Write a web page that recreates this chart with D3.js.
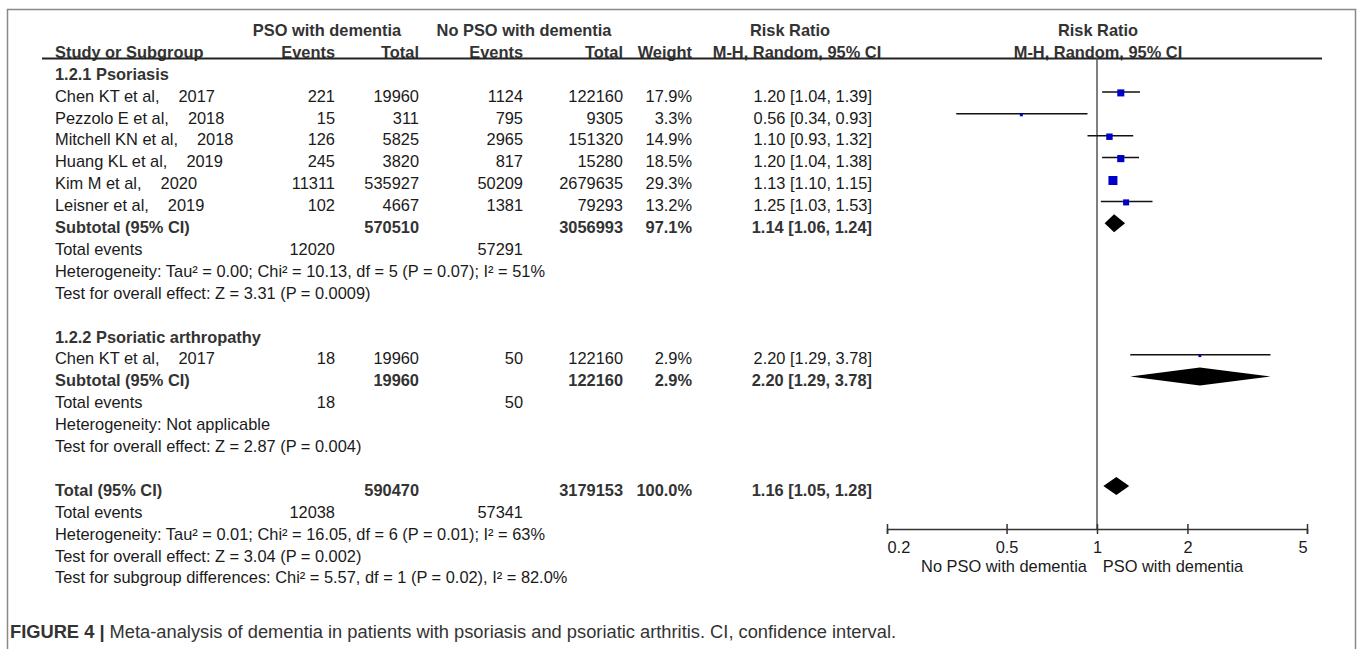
<!DOCTYPE html>
<html>
<head>
<meta charset="utf-8">
<script src="https://cdn.jsdelivr.net/npm/d3@7"></script>
<style>
  body { margin: 0; background: #fff; }
  svg text { font-family: "Liberation Sans", Arial, sans-serif; fill: #1a1a1a; }
  .b { font-weight: bold; fill: #333; }
</style>
</head>
<body>
<svg id="chart" width="1357" height="649"></svg>
<script>
// ---- data ----
const studyNames = ["Chen KT et al,", "Pezzolo E et al,", "Mitchell KN et al,", "Huang KL et al,", "Kim M et al,", "Leisner et al,", "Chen KT et al,"];
const studyYears = ["2017", "2018", "2018", "2019", "2020", "2019", "2017"];
const expEvents = [221, 15, 126, 245, 11311, 102, 18];
const expTotal = [19960, 311, 5825, 3820, 535927, 4667, 19960];
const ctlEvents = [1124, 795, 2965, 817, 50209, 1381, 50];
const ctlTotal = [122160, 9305, 151320, 15280, 2679635, 79293, 122160];
const weights = [17.9, 3.3, 14.9, 18.5, 29.3, 13.2, 2.9];
const rr = [1.20, 0.56, 1.10, 1.20, 1.13, 1.25, 2.20];
const rrLow = [1.04, 0.34, 0.93, 1.04, 1.10, 1.03, 1.29];
const rrHigh = [1.39, 0.93, 1.32, 1.38, 1.15, 1.53, 3.78];

const pooledLabels = ["Subtotal (95% CI)", "Subtotal (95% CI)", "Total (95% CI)"];
const pooledExpTotal = [570510, 19960, 590470];
const pooledCtlTotal = [3056993, 122160, 3179153];
const pooledWeight = [97.1, 2.9, 100.0];
const pooledRR = [1.14, 2.20, 1.16];
const pooledLow = [1.06, 1.29, 1.05];
const pooledHigh = [1.24, 3.78, 1.28];
const totalEventsExp = [12020, 18, 12038];
const totalEventsCtl = [57291, 50, 57341];
const heterogeneity = [
  "Heterogeneity: Tau² = 0.00; Chi² = 10.13, df = 5 (P = 0.07); I² = 51%",
  "Heterogeneity: Not applicable",
  "Heterogeneity: Tau² = 0.01; Chi² = 16.05, df = 6 (P = 0.01); I² = 63%"
];
const overallEffect = [
  "Test for overall effect: Z = 3.31 (P = 0.0009)",
  "Test for overall effect: Z = 2.87 (P = 0.004)",
  "Test for overall effect: Z = 3.04 (P = 0.002)"
];
const subgroupTest = "Test for subgroup differences: Chi² = 5.57, df = 1 (P = 0.02), I² = 82.0%";
const groupTitles = ["1.2.1 Psoriasis", "1.2.2 Psoriatic arthropathy"];
const axisTicks = [0.2, 0.5, 1, 2, 5];
const axisLabels = ["No PSO with dementia", "PSO with dementia"];

// ---- layout ----
const svg = d3.select("#chart");
const fs = 16.4;
const rowY = i => 74 + i * 21.9;
const col = { name: 55, ev1: 335, tot1: 419, ev2: 523, tot2: 623, wt: 692, ci: 872 };
const fmt2 = d3.format(".2f");
const ciText = (m, l, h) => `${fmt2(m)} [${fmt2(l)}, ${fmt2(h)}]`;

const x = d3.scaleLog().domain([0.2, 5]).range([887, 1307]);
const axisY = 529;

// frame
svg.append("path")
  .attr("d", "M7.5,649 V9.5 H1355.5 V649")
  .attr("fill", "none").attr("stroke", "#888").attr("stroke-width", 1.5);

function txt(xp, y, s, anchor, bold) {
  return svg.append("text")
    .attr("x", xp).attr("y", y).attr("dy", "0.35em")
    .attr("text-anchor", anchor || "start")
    .attr("font-size", fs)
    .attr("class", bold ? "b" : null)
    .text(s);
}

// header
txt(327, 30, "PSO with dementia", "middle", true);
txt(524, 30, "No PSO with dementia", "middle", true);
txt(790, 30, "Risk Ratio", "middle", true);
txt(1098, 30, "Risk Ratio", "middle", true);
txt(col.name, 52, "Study or Subgroup", "start", true);
txt(col.ev1, 52, "Events", "end", true);
txt(col.tot1, 52, "Total", "end", true);
txt(col.ev2, 52, "Events", "end", true);
txt(col.tot2, 52, "Total", "end", true);
txt(col.wt, 52, "Weight", "end", true);
txt(797, 52, "M-H, Random, 95% CI", "middle", true);
txt(1098, 52, "M-H, Random, 95% CI", "middle", true);
svg.append("line").attr("x1", 42).attr("x2", 1322).attr("y1", 58.5).attr("y2", 58.5)
  .attr("stroke", "#222").attr("stroke-width", 2);

// row index plan
const groupStart = [0, 12];
const pooledRow = [7, 14, 19];
const studyRow = [1, 2, 3, 4, 5, 6, 13];

groupTitles.forEach((g, k) => txt(col.name, rowY(groupStart[k]), g, "start", true));

// study rows
studyNames.forEach((n, i) => {
  const y = rowY(studyRow[i]);
  const t = txt(col.name, y, n);
  t.append("tspan").attr("dx", 19).text(studyYears[i]);
  txt(col.ev1, y, expEvents[i], "end");
  txt(col.tot1, y, expTotal[i], "end");
  txt(col.ev2, y, ctlEvents[i], "end");
  txt(col.tot2, y, ctlTotal[i], "end");
  txt(col.wt, y, weights[i].toFixed(1) + "%", "end");
  txt(col.ci, y, ciText(rr[i], rrLow[i], rrHigh[i]), "end");
});

// pooled rows and following text rows
pooledLabels.forEach((lab, k) => {
  const r = pooledRow[k];
  const y = rowY(r);
  txt(col.name, y, lab, "start", true);
  txt(col.tot1, y, pooledExpTotal[k], "end", true);
  txt(col.tot2, y, pooledCtlTotal[k], "end", true);
  txt(col.wt, y, pooledWeight[k].toFixed(1) + "%", "end", true);
  txt(col.ci, y, ciText(pooledRR[k], pooledLow[k], pooledHigh[k]), "end", true);
  txt(col.name, rowY(r + 1), "Total events");
  txt(col.ev1, rowY(r + 1), totalEventsExp[k], "end");
  txt(col.ev2, rowY(r + 1), totalEventsCtl[k], "end");
  txt(col.name, rowY(r + 2), heterogeneity[k]);
  txt(col.name, rowY(r + 3), overallEffect[k]);
});
txt(col.name, rowY(23), subgroupTest);

// ---- forest plot ----
svg.append("line")
  .attr("x1", x(1)).attr("x2", x(1)).attr("y1", 58).attr("y2", axisY)
  .attr("stroke", "#555").attr("stroke-width", 1.5);

const maxW = d3.max(weights);
const sq = w => 9 * Math.sqrt(w / maxW);

studyNames.forEach((n, i) => {
  const y = rowY(studyRow[i]) - 4;
  svg.append("line")
    .attr("x1", x(rrLow[i])).attr("x2", x(rrHigh[i]))
    .attr("y1", y).attr("y2", y)
    .attr("stroke", "#111").attr("stroke-width", 1.5);
  const s = sq(weights[i]);
  svg.append("rect")
    .attr("x", x(rr[i]) - s / 2).attr("y", y - s / 2 + 1)
    .attr("width", s).attr("height", s)
    .attr("fill", "#0000c8");
});

pooledLabels.forEach((lab, k) => {
  const y = rowY(pooledRow[k]) - 4;
  const h = 9;
  svg.append("path")
    .attr("d", `M${x(pooledLow[k])},${y} L${x(pooledRR[k])},${y - h} L${x(pooledHigh[k])},${y} L${x(pooledRR[k])},${y + h} Z`)
    .attr("fill", "#000");
});

// axis
const ax = svg.append("g")
  .attr("transform", `translate(0,${axisY})`)
  .call(d3.axisBottom(x).tickValues(axisTicks).tickFormat(d3.format("")).tickSizeOuter(0).tickSize(5).tickPadding(7));
ax.select(".domain").attr("stroke", "#333").attr("stroke-width", 1.5);
ax.selectAll(".tick line").attr("y1", -5).attr("y2", 5).attr("stroke", "#333").attr("stroke-width", 1.5);
ax.selectAll(".tick text").attr("font-size", fs).attr("font-family", null).style("fill", "#1a1a1a")
  .attr("text-anchor", d => d === axisTicks[0] ? "start" : d === axisTicks[axisTicks.length - 1] ? "end" : "middle");

txt(1004, 566, axisLabels[0], "middle");
txt(1173, 566, axisLabels[1], "middle");

// caption
const cap = svg.append("text").attr("x", 10).attr("y", 632).attr("dy", "0.35em").attr("font-size", 18.3);
cap.append("tspan").attr("font-weight", "bold").style("fill", "#333").text("FIGURE 4 | ");
cap.append("tspan").style("fill", "#333").text("Meta-analysis of dementia in patients with psoriasis and psoriatic arthritis. CI, confidence interval.");
</script>
</body>
</html>
